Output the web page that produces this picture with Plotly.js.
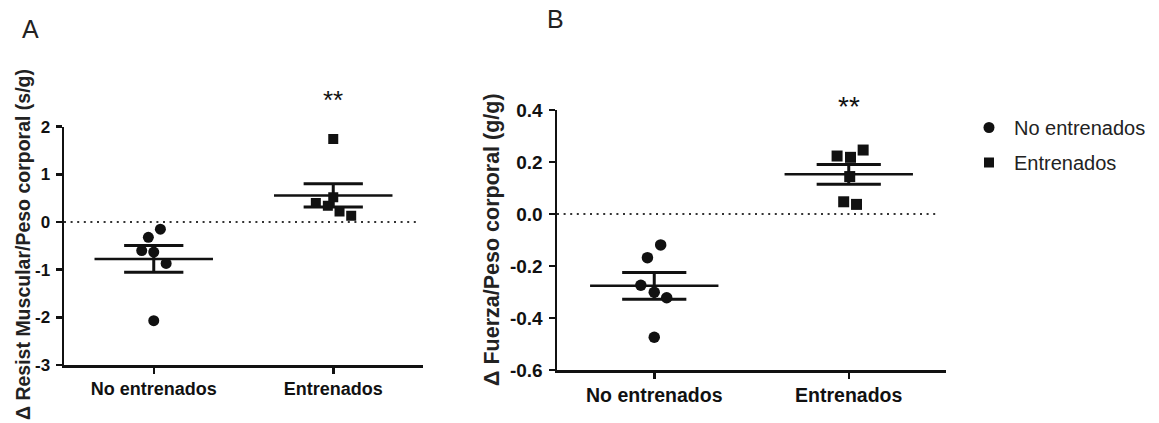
<!DOCTYPE html>
<html>
<head>
<meta charset="utf-8">
<script src="https://cdn.plot.ly/plotly-3.0.1.min.js"></script>
<style>
  html, body { margin: 0; padding: 0; background: #fff; }
  #chart { width: 1159px; height: 423px; }
</style>
</head>
<body>
<div id="chart"></div>
<script>
// ---------- data ----------
const categories = ['No entrenados', 'Entrenados'];

// Panel A: Δ Resist Muscular/Peso corporal (s/g)
const resistNo = [-0.15, -0.32, -0.60, -0.63, -0.87, -2.07];
const resistEn = [1.74, 0.40, 0.34, 0.52, 0.22, 0.13];
const resistNoJitter = [0.037, -0.030, -0.067, 0.000, 0.069, 0.000];
const resistEnJitter = [0.000, -0.097, -0.030, 0.000, 0.035, 0.100];
const resistTickVals = [-3, -2, -1, 0, 1, 2];
const resistTickText = ['-3', '-2', '-1', '0', '1', '2'];

// Panel B: Δ Fuerza/Peso corporal (g/g)
const fuerzaNo = [-0.119, -0.168, -0.274, -0.301, -0.322, -0.474];
const fuerzaEn = [0.223, 0.218, 0.246, 0.144, 0.047, 0.037];
const fuerzaNoJitter = [0.033, -0.035, -0.069, 0.000, 0.064, 0.000];
const fuerzaEnJitter = [-0.060, 0.009, 0.074, 0.005, -0.026, 0.040];
const fuerzaTickVals = [-0.6, -0.4, -0.2, 0.0, 0.2, 0.4];
const fuerzaTickText = ['-0.6', '-0.4', '-0.2', '0.0', '0.2', '0.4'];

const significance = ['', '**'];

// ---------- helpers ----------
function mean(a) { return a.reduce((s, v) => s + v, 0) / a.length; }
function sem(a) {
  const m = mean(a);
  const v = a.reduce((s, x) => s + (x - m) * (x - m), 0) / (a.length - 1);
  return Math.sqrt(v / a.length);
}

const FONT = 'Arial, "Liberation Sans", Helvetica, sans-serif';
const INK = '#111';

function groupTraces(values, jitter, idx, symbol, size, xa, ya, name, showLegend) {
  const m = mean(values), s = sem(values);
  const pts = {
    type: 'scatter', mode: 'markers',
    x: values.map((v, i) => idx + jitter[i]), y: values,
    xaxis: xa, yaxis: ya, name: name, legendgroup: name, showlegend: showLegend,
    marker: { symbol: symbol, size: size, color: INK, line: { width: 0 } },
    hoverinfo: 'y'
  };
  const meanLine = {
    type: 'scatter', mode: 'lines', x: [idx - 0.33, idx + 0.33], y: [m, m],
    xaxis: xa, yaxis: ya, showlegend: false, hoverinfo: 'skip',
    line: { color: INK, width: 2.5 }
  };
  const caps = {
    type: 'scatter', mode: 'lines',
    x: [idx - 0.165, idx + 0.165, null, idx - 0.165, idx + 0.165, null, idx, idx],
    y: [m + s, m + s, null, m - s, m - s, null, m + s, m - s],
    xaxis: xa, yaxis: ya, showlegend: false, hoverinfo: 'skip', connectgaps: false,
    line: { color: INK, width: 3 }
  };
  return [meanLine, caps, pts];
}

const traces = [].concat(
  groupTraces(resistNo, resistNoJitter, 0, 'circle', 11, 'x', 'y', categories[0], true),
  groupTraces(resistEn, resistEnJitter, 1, 'square', 10, 'x', 'y', categories[1], true),
  groupTraces(fuerzaNo, fuerzaNoJitter, 0, 'circle', 11.5, 'x2', 'y2', categories[0], false),
  groupTraces(fuerzaEn, fuerzaEnJitter, 1, 'square', 11, 'x2', 'y2', categories[1], false)
);

function xAxis(domain, anchor, fsize) {
  return {
    domain: domain, anchor: anchor, range: [-0.5, 1.5],
    tickmode: 'array', tickvals: [0, 1], ticktext: categories,
    showline: true, linecolor: INK, linewidth: 2.5, mirror: false,
    ticks: 'outside', ticklen: 6, tickwidth: 2.5, tickcolor: INK,
    ticklabelstandoff: 0,
    showgrid: false, zeroline: false, fixedrange: true,
    tickfont: { family: FONT, size: fsize, color: INK, weight: 'bold' }
  };
}
function yAxis(domain, anchor, range, vals, text, fsize) {
  return {
    domain: domain, anchor: anchor, range: range,
    tickmode: 'array', tickvals: vals, ticktext: text,
    showline: true, linecolor: INK, linewidth: 2.5,
    ticks: 'outside', ticklen: 6, tickwidth: 2.5, tickcolor: INK,
    ticklabelstandoff: 2,
    showgrid: false, zeroline: false, fixedrange: true,
    tickfont: { family: FONT, size: fsize, color: INK, weight: 'bold' }
  };
}

const H = 423, W = 1159;
const layout = {
  width: W, height: H,
  margin: { l: 0, r: 0, t: 0, b: 0 },
  paper_bgcolor: '#fff', plot_bgcolor: '#fff',
  showlegend: true,
  legend: {
    x: 964 / W, xanchor: 'left', y: (H - 108) / H, yanchor: 'top',
    font: { family: FONT, size: 20, color: '#222' },
    tracegroupgap: 6, itemwidth: 40, bgcolor: 'rgba(0,0,0,0)'
  },
  xaxis: xAxis([64 / W, 423 / W], 'y', 18),
  yaxis: yAxis([(H - 365) / H, (H - 126.7) / H], 'x', [-3, 2], resistTickVals, resistTickText, 17),
  xaxis2: xAxis([557 / W, 946 / W], 'y2', 19.5),
  yaxis2: yAxis([(H - 370) / H, (H - 110) / H], 'x2', [-0.6, 0.4], fuerzaTickVals, fuerzaTickText, 19),
  shapes: [
    { type: 'line', xref: 'x', yref: 'y', x0: -0.5, x1: 1.467, y0: 0, y1: 0,
      line: { color: '#333', width: 2, dash: '2px,4.6px' } },
    { type: 'line', xref: 'x2', yref: 'y2', x0: -0.5, x1: 1.465, y0: 0, y1: 0,
      line: { color: '#333', width: 2, dash: '2px,4.6px' } }
  ],
  annotations: [
    // '**' above the trained group; placed in axis-domain units so it may sit above the plot
    { xref: 'x', yref: 'y domain', x: 1, y: 1.11, text: significance[1], showarrow: false,
      font: { family: FONT, size: 26, color: INK }, xanchor: 'center', yanchor: 'middle' },
    { xref: 'x2', yref: 'y2 domain', x: 1, y: 1.015, text: significance[1], showarrow: false,
      font: { family: FONT, size: 28, color: INK }, xanchor: 'center', yanchor: 'middle' },
    { xref: 'paper', yref: 'paper', x: 23 / W, y: (H - 245) / H, textangle: -90,
      text: '\u0394 Resist Muscular/Peso corporal (s/g)', showarrow: false,
      font: { family: FONT, size: 19.5, color: '#222', weight: 'bold' }, xanchor: 'center', yanchor: 'middle' },
    { xref: 'paper', yref: 'paper', x: 492 / W, y: (H - 239) / H, textangle: -90,
      text: '\u0394 Fuerza/Peso corporal (g/g)', showarrow: false,
      font: { family: FONT, size: 21.5, color: '#222', weight: 'bold' }, xanchor: 'center', yanchor: 'middle' },
    { xref: 'paper', yref: 'paper', x: 30 / W, y: (H - 29) / H, text: 'A', showarrow: false,
      font: { family: FONT, size: 25, color: '#222' }, xanchor: 'center', yanchor: 'middle' },
    { xref: 'paper', yref: 'paper', x: 555 / W, y: (H - 19) / H, text: 'B', showarrow: false,
      font: { family: FONT, size: 25, color: '#222' }, xanchor: 'center', yanchor: 'middle' }
  ]
};

Plotly.newPlot('chart', traces, layout, { staticPlot: true, displayModeBar: false });
</script>
</body>
</html>
